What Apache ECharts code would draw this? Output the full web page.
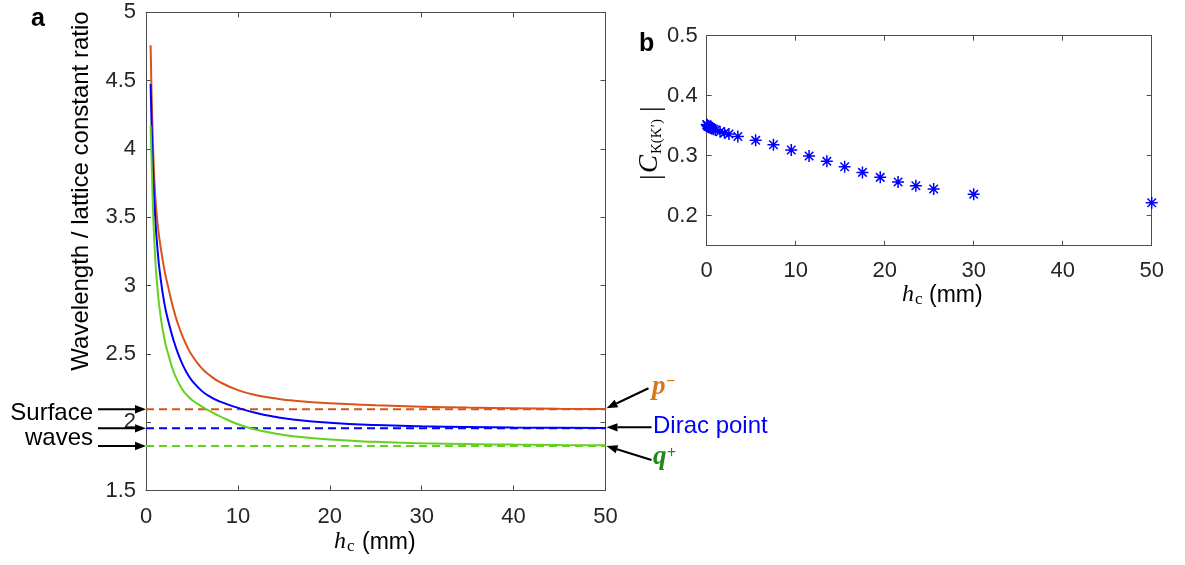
<!DOCTYPE html>
<html>
<head>
<meta charset="utf-8">
<script src="https://cdn.jsdelivr.net/npm/echarts@6/dist/echarts.min.js"></script>
<style>
  html, body { margin: 0; padding: 0; background: #fff; }
  #chart { width: 1185px; height: 565px; }
</style>
</head>
<body>
<div id="chart"></div>
<script>
// Panel a: wavelength / lattice-constant ratio versus corrugation height h_c (mm)
const hcA = [0.5, 0.75, 1, 1.25, 1.5, 2, 2.5, 3, 3.5, 4, 4.5, 5, 6, 7, 8, 10, 12, 14, 16, 20, 25, 30, 35, 40, 45, 50];
const ratioPMinus = [4.76, 4.05, 3.66, 3.46, 3.325, 3.115, 2.965, 2.825, 2.715, 2.625, 2.55, 2.49, 2.40, 2.34, 2.295, 2.235, 2.198, 2.175, 2.158, 2.138, 2.124, 2.114, 2.107, 2.102, 2.099, 2.097];
const ratioDirac  = [4.476, 3.87, 3.50, 3.27, 3.10, 2.87, 2.72, 2.60, 2.50, 2.42, 2.355, 2.305, 2.233, 2.185, 2.152, 2.105, 2.067, 2.040, 2.020, 1.996, 1.979, 1.970, 1.965, 1.961, 1.959, 1.957];
const ratioQPlus  = [4.17, 3.58, 3.20, 2.98, 2.82, 2.61, 2.48, 2.37, 2.295, 2.235, 2.195, 2.163, 2.118, 2.08, 2.045, 1.985, 1.945, 1.918, 1.898, 1.873, 1.856, 1.846, 1.840, 1.836, 1.834, 1.832];
// surface-wave limits (dashed)
const surfacePMinus = 2.095;
const surfaceDirac  = 1.955;
const surfaceQPlus  = 1.826;
const hcRange = [0, 50];

// Panel b: |C_K(K')| versus h_c (mm)
const hcB = [0, 0.05, 0.1, 0.15, 0.2, 0.3, 0.4, 0.5, 0.6, 0.8, 1.0, 1.5, 2.0, 2.5, 3.5, 5.5, 7.5, 9.5, 11.5, 13.5, 15.5, 17.5, 19.5, 21.5, 23.5, 25.5, 30, 50];
const cK  = [0.352, 0.351, 0.350, 0.349, 0.349, 0.348, 0.347, 0.346, 0.345, 0.344, 0.343, 0.340, 0.338, 0.336, 0.332, 0.3256, 0.3183, 0.3094, 0.2994, 0.2906, 0.2817, 0.2722, 0.2639, 0.2561, 0.2500, 0.2444, 0.2356, 0.2217];
const yTicksB = [0.2, 0.3, 0.4, 0.5];

const ORANGE = '#D95319', BLUE = '#0000FF', GREEN = '#63D21E';
const AXIS = '#4d4d4d', TXT = '#262626';
const SANS = '"Liberation Sans", Arial, sans-serif';
const SERIF = '"Liberation Serif", "Times New Roman", serif';

const zip = (xs, ys) => xs.map((x, i) => [x, ys[i]]);
const flat = v => hcRange.map(x => [x, v]);

function axisBase(extra) {
  return Object.assign({
    type: 'value',
    axisLine: { show: true, onZero: false, lineStyle: { color: AXIS, width: 1 } },
    axisTick: { show: true, inside: true, length: 5, lineStyle: { color: AXIS, width: 1 } },
    splitLine: { show: false },
    axisLabel: { color: TXT, fontSize: 22, fontFamily: SANS }
  }, extra);
}
const noLabel = { show: false };
const curveStyle = color => ({ color: color, width: 2 });

const option = {
  animation: false,
  backgroundColor: '#fff',
  grid: [
    { left: 146, top: 12.4, right: 579.5, bottom: 74.5, containLabel: false },
    { left: 706.7, top: 35.7, right: 33.3, bottom: 319.3, containLabel: false }
  ],
  xAxis: [
    axisBase({ gridIndex: 0, min: 0, max: 50, interval: 10, position: 'bottom', axisLabel: { color: TXT, fontSize: 22, fontFamily: SANS, margin: 15 } }),
    axisBase({ gridIndex: 0, min: 0, max: 50, interval: 10, position: 'top', axisLabel: noLabel }),
    axisBase({ gridIndex: 1, min: 0, max: 50, interval: 10, position: 'bottom', axisLabel: { color: TXT, fontSize: 22, fontFamily: SANS, margin: 14 } }),
    axisBase({ gridIndex: 1, min: 0, max: 50, interval: 10, position: 'top', axisLabel: noLabel })
  ],
  yAxis: [
    axisBase({ gridIndex: 0, min: 1.5, max: 5, interval: 0.5, position: 'left', axisLabel: { color: TXT, fontSize: 22, fontFamily: SANS, margin: 10 } }),
    axisBase({ gridIndex: 0, min: 1.5, max: 5, interval: 0.5, position: 'right', axisLabel: noLabel }),
    axisBase({ gridIndex: 1, min: 0.15, max: 0.5, position: 'left',
      axisTick: { show: true, inside: true, length: 5, lineStyle: { color: AXIS }, customValues: yTicksB },
      axisLabel: { color: TXT, fontSize: 22, fontFamily: SANS, margin: 9, customValues: yTicksB } }),
    axisBase({ gridIndex: 1, min: 0.15, max: 0.5, position: 'right',
      axisTick: { show: true, inside: true, length: 5, lineStyle: { color: AXIS }, customValues: yTicksB },
      axisLabel: noLabel })
  ],
  series: [
    { type: 'line', xAxisIndex: 0, yAxisIndex: 0, data: flat(surfacePMinus), showSymbol: false, lineStyle: { color: ORANGE, width: 2, type: [8, 5] }, z: 2 },
    { type: 'line', xAxisIndex: 0, yAxisIndex: 0, data: flat(surfaceDirac), showSymbol: false, lineStyle: { color: BLUE, width: 2, type: [8, 5] }, z: 2 },
    { type: 'line', xAxisIndex: 0, yAxisIndex: 0, data: flat(surfaceQPlus), showSymbol: false, lineStyle: { color: GREEN, width: 2, type: [8, 5] }, z: 2 },
    { type: 'line', xAxisIndex: 0, yAxisIndex: 0, data: zip(hcA, ratioPMinus), showSymbol: false, smooth: 0.5, lineStyle: curveStyle(ORANGE), z: 3 },
    { type: 'line', xAxisIndex: 0, yAxisIndex: 0, data: zip(hcA, ratioDirac), showSymbol: false, smooth: 0.5, lineStyle: curveStyle(BLUE), z: 3 },
    { type: 'line', xAxisIndex: 0, yAxisIndex: 0, data: zip(hcA, ratioQPlus), showSymbol: false, smooth: 0.5, lineStyle: curveStyle(GREEN), z: 3 },
    { type: 'scatter', xAxisIndex: 2, yAxisIndex: 2, data: zip(hcB, cK), clip: false,
      symbol: 'path://M0,-10L0,10M-10,0L10,0M-7.07,-7.07L7.07,7.07M-7.07,7.07L7.07,-7.07',
      symbolSize: 12, itemStyle: { color: 'rgba(0,0,0,0)', borderColor: BLUE, borderWidth: 1.5, opacity: 1 }, z: 3 }
  ]
};

const chart = echarts.init(document.getElementById('chart'), null, { renderer: 'canvas' });
chart.setOption(option);

function txt(x, y, text, font, fill, align, extra) {
  return Object.assign({
    type: 'text', x: x, y: y, z: 10,
    style: { text: text, font: font, fill: fill, align: align || 'left', textAlign: align || 'left',
      verticalAlign: 'middle', textVerticalAlign: 'middle' }
  }, extra || {});
}
function arrow(x1, y1, x2, y2) {
  const a = Math.atan2(y2 - y1, x2 - x1), L = 11, W = 4.2;
  const bx = x2 - L * Math.cos(a), by = y2 - L * Math.sin(a);
  const nx = -Math.sin(a) * W, ny = Math.cos(a) * W;
  return [
    { type: 'line', z: 10, shape: { x1: x1, y1: y1, x2: bx, y2: by }, style: { stroke: '#000', lineWidth: 2 } },
    { type: 'polygon', z: 10, shape: { points: [[x2, y2], [bx + nx, by + ny], [bx - nx, by - ny]] }, style: { fill: '#000' } }
  ];
}

const px = (x, y) => chart.convertToPixel({ gridIndex: 0 }, [x, y]);
const yP = px(0, surfacePMinus)[1], yD = px(0, surfaceDirac)[1], yQ = px(0, surfaceQPlus)[1];
const xL = px(0, 2)[0], xR = px(50, 2)[0];

const g = [];
// panel letters
g.push(txt(31, 19, 'a', 'bold 25px ' + SANS, '#000', 'left'));
g.push(txt(639, 44, 'b', 'bold 25px ' + SANS, '#000', 'left'));

// panel a axis titles
g.push(txt(81, 191, 'Wavelength / lattice constant ratio', '24px ' + SANS, '#000', 'center', { rotation: Math.PI / 2 }));
g.push(txt(334, 542, 'h', 'italic 24px ' + SERIF, '#000', 'left'));
g.push(txt(347, 547, 'c', '17px ' + SERIF, '#000', 'left'));
g.push(txt(362, 543, '(mm)', '23px ' + SANS, '#000', 'left'));

// panel b axis titles
g.push(txt(902, 295, 'h', 'italic 24px ' + SERIF, '#000', 'left'));
g.push(txt(915, 300, 'c', '17px ' + SERIF, '#000', 'left'));
g.push(txt(929, 296, '(mm)', '23px ' + SANS, '#000', 'left'));
g.push({
  type: 'group', x: 650, y: 142, rotation: Math.PI / 2, z: 10,
  children: [
    txt(-38, 2, '|', '28px ' + SERIF, '#000', 'left'),
    txt(-31, 0, 'C', 'italic 27px ' + SERIF, '#000', 'left'),
    txt(-12, 7, 'K(K\u2032)', '15px ' + SERIF, '#000', 'left'),
    txt(30, 2, '|', '28px ' + SERIF, '#000', 'left')
  ]
});

// surface-wave annotation, left side
g.push(txt(93, 413, 'Surface', '24px ' + SANS, '#000', 'right'));
g.push(txt(93, 438, 'waves', '24px ' + SANS, '#000', 'right'));
g.push(...arrow(xL - 48, yP, xL, yP));
g.push(...arrow(xL - 48, yD, xL, yD));
g.push(...arrow(xL - 48, yQ, xL, yQ));

// band-edge annotations, right side
g.push(...arrow(xR + 43, yP - 21, xR + 1, yP - 1));
g.push(...arrow(xR + 46, yD - 1, xR + 1, yD - 1));
g.push(...arrow(xR + 46, yQ + 14, xR + 1, yQ));
g.push(txt(652, 387, 'p', 'italic bold 27px ' + SERIF, '#D9761B', 'left'));
g.push(txt(666, 382, '\u2212', 'bold 16px ' + SERIF, '#D9761B', 'left'));
g.push(txt(653, 426, 'Dirac point', '24px ' + SANS, BLUE, 'left'));
g.push(txt(653, 457, 'q', 'italic bold 27px ' + SERIF, '#1E8A1E', 'left'));
g.push(txt(667, 454, '+', 'bold 16px ' + SERIF, '#1E8A1E', 'left'));

chart.setOption({ graphic: { elements: g } });
</script>
</body>
</html>
